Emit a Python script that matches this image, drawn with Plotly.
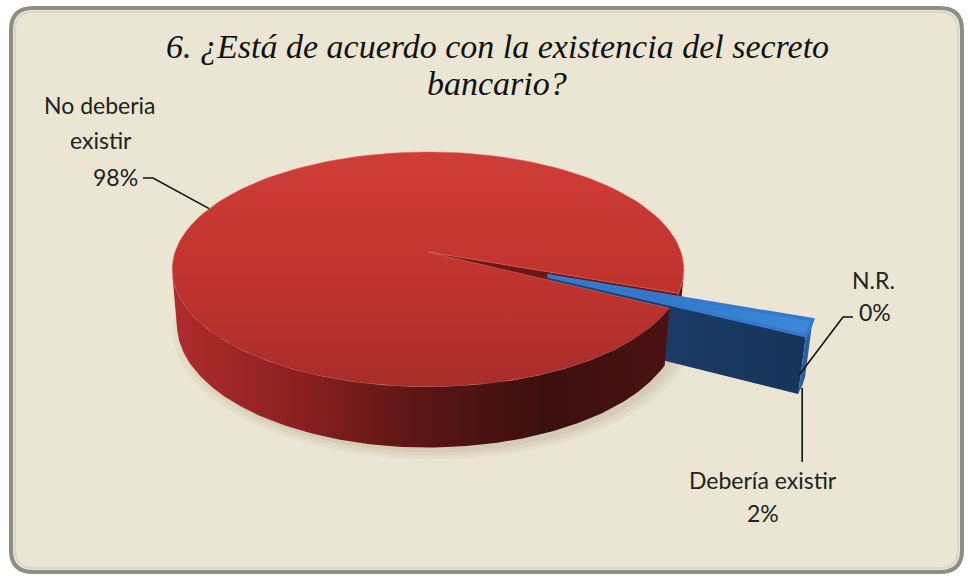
import numpy as np
import plotly.graph_objects as go

# ---- data -------------------------------------------------------------
categories = ["No deberia existir", "Debería existir", "N.R."]
label_lines = [["No deberia", "existir"], ["Debería existir"], ["N.R."]]
values = [98, 2, 0]
explode = [0.0, 0.5, 0.5]
title_lines = ["6. ¿Está de acuerdo con la existencia del secreto", "bancario?"]

# ---- 3-D pie geometry (pixel space, y grows downward) -----------------
W, H = 971, 580
CX, CY = 428.0, 252.0          # projected centre of the top face
S = 253.0                       # radius scale in pixels
DIST = 6.0                      # camera distance (perspective strength)
ELEV = np.radians(27.0)         # camera elevation
THICK = 0.245                   # pie thickness, in radii
START = 27.2                    # first slice angle, degrees clockwise from 3 o'clock
sa, ca = np.sin(ELEV), np.cos(ELEV)


def proj(X, Z, Y):
    X, Z, Y = np.asarray(X, float), np.asarray(Z, float), np.asarray(Y, float)
    depth = DIST - Y * sa - Z * ca
    return CX + S * DIST * X / depth, CY - S * DIST * (Y * ca - Z * sa) / depth


total = float(sum(values))
spans = [v / total * 360.0 for v in values]
starts = START + np.concatenate([[0.0], np.cumsum(spans)[:-1]])

slices = []
for i, v in enumerate(values):
    a0, a1 = starts[i], starts[i] + spans[i]
    mid = np.radians((a0 + a1) / 2)
    slices.append(dict(a0=a0, a1=a1, mid=mid,
                       ox=explode[i] * np.cos(mid), oz=explode[i] * np.sin(mid)))


def arc(sl, a0, a1, Y, n=160):
    t = np.radians(np.linspace(a0, a1, n))
    return proj(sl["ox"] + np.cos(t), sl["oz"] + np.sin(t), np.full_like(t, Y))


def top_face(sl):
    x, y = arc(sl, sl["a0"], sl["a1"], 0.0)
    cx, cy = proj(sl["ox"], sl["oz"], 0.0)
    return np.r_[cx, x, cx], np.r_[cy, y, cy]


def wall_runs(sl):
    """Angle runs of the outer wall that face the camera."""
    t = np.linspace(sl["a0"], sl["a1"], 721)
    r = np.radians(t)
    px, pz = sl["ox"] + np.cos(r), sl["oz"] + np.sin(r)
    dot = -px * np.cos(r) + (DIST * ca - pz) * np.sin(r)
    vis = dot > 0
    runs, cur = [], None
    for ang, ok in zip(t, vis):
        if ok and cur is None:
            cur = [ang, ang]
        elif ok:
            cur[1] = ang
        elif cur is not None:
            runs.append(cur)
            cur = None
    if cur is not None:
        runs.append(cur)
    return runs


def wall(sl, a0, a1):
    xt, yt = arc(sl, a0, a1, 0.0)
    xb, yb = arc(sl, a0, a1, -THICK)
    return np.r_[xt, xb[::-1], xt[0]], np.r_[yt, yb[::-1], yt[0]]


def radial_face(sl, ang):
    r = np.radians(ang)
    X = [sl["ox"], sl["ox"] + np.cos(r), sl["ox"] + np.cos(r), sl["ox"], sl["ox"]]
    Z = [sl["oz"], sl["oz"] + np.sin(r), sl["oz"] + np.sin(r), sl["oz"], sl["oz"]]
    Y = [0, 0, -THICK, -THICK, 0]
    return proj(X, Z, Y)


fig = go.Figure()


def poly(xy, color=None, grad=None, line=None):
    x, y = xy
    kw = dict(x=x, y=y, mode="lines", fill="toself", hoverinfo="skip",
              showlegend=False,
              line=dict(width=line[1] if line else 0,
                        color=line[0] if line else "rgba(0,0,0,0)"))
    if grad:
        kw["fillgradient"] = dict(type=grad[0],
                                  colorscale=[[k / (len(grad[1]) - 1), c]
                                              for k, c in enumerate(grad[1])])
        kw["fillcolor"] = grad[1][0]
    else:
        kw["fillcolor"] = color
    fig.add_trace(go.Scatter(**kw))


red, blue = slices[0], slices[1]
red_runs = wall_runs(red)

# soft shadow on the floor under the pie
for k, alpha in enumerate([0.05, 0.05, 0.06]):
    g = 1.03 - 0.02 * k
    t = np.radians(np.linspace(0, 360, 200))
    sx, sy = proj(g * np.cos(t) + 0.02, g * np.sin(t) + 0.04, np.full_like(t, -THICK))
    poly((sx, sy), color=f"rgba(90,70,40,{alpha})")

# back pieces first: red wall hidden behind the exploded slice, red cut face
for a0, a1 in red_runs:
    if a0 > 180:
        poly(wall(red, a0, a1), grad=("horizontal", ["#7a1c1c", "#4a1212"]))
poly(radial_face(red, red["a1"]), color="#6a1616")

# exploded slice: cut face, outer wall, top
poly(radial_face(blue, blue["a1"]), grad=("horizontal", ["#1d4272", "#173459"]))
for a0, a1 in wall_runs(blue):
    poly(wall(blue, a0, a1), color="#2a60a0")
poly(top_face(blue), grad=("horizontal", ["#2a6cc0", "#3d8ad9"]),
     line=("#3579cc", 3.5))

# main slice top and its front wall
poly(top_face(red), grad=("vertical", ["#a82d2a", "#c2342f", "#cf3d38"]),
     line=("rgba(225,110,100,0.55)", 1))
for a0, a1 in red_runs:
    if a0 <= 180:
        poly(wall(red, a0, a1),
             grad=("horizontal", ["#b02c2b", "#8c2020", "#5a1515", "#3c0f0f", "#4a1212"]))

# ---- labels and leader lines -----------------------------------------
def leader(xs, ys):
    fig.add_trace(go.Scatter(x=xs, y=ys, mode="lines", hoverinfo="skip",
                             showlegend=False, line=dict(color="#111111", width=1.6)))


LBL = dict(family="Lato, 'Liberation Sans', sans-serif", size=23, color="#222222")

# main slice: anchor on its mid-angle rim
ax, ay = proj(np.cos(red["mid"]), np.sin(red["mid"]), 0.0)
leader([143, 153, float(ax)], [178, 178, float(ay)])
red_text = label_lines[0] + [f"{values[0]}%"]
for txt, (tx, ty) in zip(red_text, [(100, 105), (101, 140), (115, 177)]):
    fig.add_annotation(x=tx, y=ty, text=txt, showarrow=False, font=LBL,
                       xanchor="center", yanchor="middle")

# exploded slice: anchor at the bottom of its outer wall
bx, by = proj(blue["ox"] + np.cos(blue["mid"]), blue["oz"] + np.sin(blue["mid"]), -THICK)
leader([float(bx), float(bx)], [float(by) + 2, 462])
for txt, (tx, ty) in zip(label_lines[1] + [f"{values[1]}%"], [(763, 480), (763, 513)]):
    fig.add_annotation(x=tx, y=ty, text=txt, showarrow=False, font=LBL,
                       xanchor="center", yanchor="middle")

# zero slice: anchor on the edge of the exploded wedge
nr = slices[2]
nx, ny = proj(nr["ox"] + np.cos(np.radians(nr["a0"])),
              nr["oz"] + np.sin(np.radians(nr["a0"])), -THICK * 0.6)
leader([853, 843, float(nx)], [317, 317, float(ny)])
for txt, (tx, ty) in zip(label_lines[2] + [f"{values[2]}%"], [(873, 280), (875, 312)]):
    fig.add_annotation(x=tx, y=ty, text=txt, showarrow=False, font=LBL,
                       xanchor="center", yanchor="middle")

# title
TFONT = dict(family="'Liberation Serif', 'DejaVu Serif', serif", size=34, color="#111111")
for txt, ty in zip(title_lines, [46, 83]):
    fig.add_annotation(x=497, y=ty, text=f"<i>{txt}</i>", showarrow=False, font=TFONT,
                       xanchor="center", yanchor="middle")


# ---- panel ------------------------------------------------------------
def rounded(x0, y0, x1, y1, r):
    return (f"M{x0 + r},{y0} L{x1 - r},{y0} Q{x1},{y0} {x1},{y0 + r} "
            f"L{x1},{y1 - r} Q{x1},{y1} {x1 - r},{y1} L{x0 + r},{y1} "
            f"Q{x0},{y1} {x0},{y1 - r} L{x0},{y0 + r} Q{x0},{y0} {x0 + r},{y0} Z")


fig.add_shape(type="path", path=rounded(11, 8, 962, 572, 22), layer="below",
              fillcolor="#ebe5d3", line=dict(color="#8e8e84", width=4))
fig.add_shape(type="path", path=rounded(15, 12, 958, 568, 19), layer="below",
              fillcolor="rgba(0,0,0,0)", line=dict(color="#d9d7cc", width=2))

fig.update_layout(
    width=W, height=H, margin=dict(l=0, r=0, t=0, b=0),
    paper_bgcolor="white", plot_bgcolor="rgba(0,0,0,0)",
    xaxis=dict(range=[0, W], visible=False, fixedrange=True),
    yaxis=dict(range=[H, 0], visible=False, fixedrange=True),
    showlegend=False,
)

fig.write_html("out.html")
